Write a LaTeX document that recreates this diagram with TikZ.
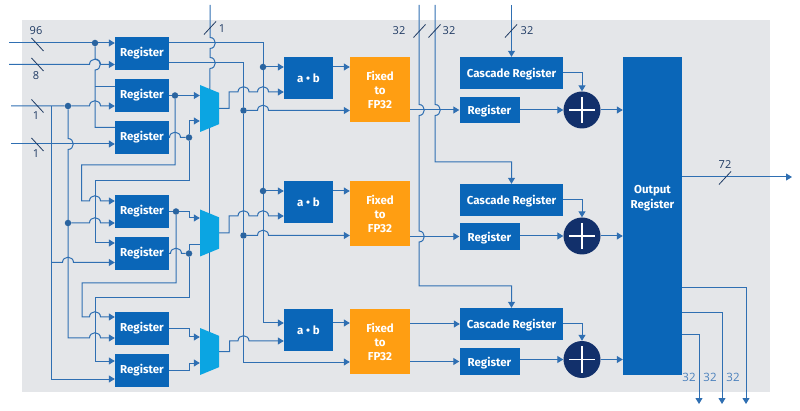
\documentclass[tikz,border=0pt]{standalone}
\usepackage{fontspec}
\setmainfont{Open Sans}
\newfontfamily\boxfont{Fira Sans}
\usepackage{xcolor}
\usetikzlibrary{shapes.geometric, arrows.meta, backgrounds}

\definecolor{panelgrey}{HTML}{E4E6E9}
\definecolor{regblue}{HTML}{0A66B8}
\definecolor{fixorange}{HTML}{FF9E12}
\definecolor{muxblue}{HTML}{0BA5E2}
\definecolor{addnavy}{HTML}{12306B}
\definecolor{wireblue}{HTML}{2F6FB2}
\definecolor{labelnavy}{HTML}{1F3A63}
\definecolor{labelblue}{HTML}{4A80BC}

\newcommand{\hopx}[2]{-- (#1-5.5,#2) .. controls (#1-5.5,#2-7) and (#1+5.5,#2-7) .. (#1+5.5,#2)}
\newcommand{\hopy}[2]{-- (#1,#2-5.5) .. controls (#1+7,#2-5.5) and (#1+7,#2+5.5) .. (#1,#2+5.5)}

\tikzset{
	box/.style={fill=regblue, text=white, inner sep=0pt, font=\boxfont\fontsize{11.5}{14}\selectfont\bfseries, align=center},
	regbox/.style={box, minimum width=54pt, minimum height=33pt},
	abbox/.style={box, minimum width=49pt, minimum height=42pt},
	fixbox/.style={box, fill=fixorange, minimum width=60pt, minimum height=65pt},
	casbox/.style={box, minimum width=103pt, minimum height=32pt, text height=10pt, text depth=0pt},
	smallreg/.style={box, minimum width=60pt, minimum height=26.5pt, text height=10pt, text depth=0pt},
	muxbox/.style={trapezium, fill=muxblue, rotate=-90, inner sep=0pt, trapezium stretches=true,
		minimum width=47pt, minimum height=19pt, trapezium angle=63.4},
	adder/.style={circle, fill=addnavy, minimum size=37pt, inner sep=0pt, path picture={
		\draw[white, line width=1.1pt] (path picture bounding box.center) +(-13,0) -- +(13,0);
		\draw[white, line width=1.1pt] (path picture bounding box.center) +(0,-13) -- +(0,13);}},
	jdot/.style={circle, fill=wireblue!90!black, minimum size=6.5pt, inner sep=0pt},
	wire/.style={draw=wireblue, line width=1pt},
	arr/.style={wire, -{Triangle[length=6pt, width=7pt]}},
	tickmark/.style={draw=labelnavy, line width=0.8pt},
	numlabel/.style={text=labelnavy, font=\fontsize{11}{13}\selectfont},
	outlabel/.style={text=labelblue, font=\fontsize{11.5}{13}\selectfont}
}

\begin{document}
\begin{tikzpicture}[x=1pt, y=-1pt]
	\useasboundingbox (0,0) rectangle (800,411);

	% Define the free wire ends
	\coordinate (inA) at (9,43);
	\coordinate (inB) at (9,64.5);
	\coordinate (inC) at (11,106);
	\coordinate (inD) at (11,144);
	\coordinate (selTop) at (210,5);
	\coordinate (busA) at (419,5);
	\coordinate (busB) at (435,5);
	\coordinate (busC) at (511.5,5);
	\coordinate (outA) at (792,177);
	\coordinate (outB) at (746,404);
	\coordinate (outC) at (722,404);
	\coordinate (outD) at (699,404);

	% Registers on the left
	\node[regbox] (regA) at (142,53.5) {Register};
	\node[regbox] (regB) at (142,95.5) {Register};
	\node[regbox] (regC) at (142,137.5) {Register};
	\node[regbox] (regD) at (142,211.5) {Register};
	\node[regbox] (regE) at (142,253.5) {Register};
	\node[regbox] (regF) at (142,328.5) {Register};
	\node[regbox] (regG) at (142,370) {Register};

	% Multiplexers
	\node[muxbox] (muxA) at (209.5,108.5) {\phantom{.}};
	\node[muxbox] (muxB) at (209.5,233) {\phantom{.}};
	\node[muxbox] (muxC) at (209.5,351.5) {\phantom{.}};

	% Multipliers and converters
	\node[abbox] (abA) at (308.5,78) {a • b};
	\node[abbox] (abB) at (308.5,202) {a • b};
	\node[abbox] (abC) at (308.5,330) {a • b};
	\node[fixbox] (fixA) at (380,89.5) {Fixed\\to\\FP32};
	\node[fixbox] (fixB) at (380,213.5) {Fixed\\to\\FP32};
	\node[fixbox] (fixC) at (380,341.5) {Fixed\\to\\FP32};

	% Cascade registers, registers and adders
	\node[casbox] (casA) at (511.5,73) {Cascade Register};
	\node[casbox] (casB) at (511.5,200) {Cascade Register};
	\node[casbox] (casC) at (511.5,324) {Cascade Register};
	\node[smallreg] (regH) at (489.5,110) {Register};
	\node[smallreg] (regI) at (489.5,236.5) {Register};
	\node[smallreg] (regJ) at (489.5,361.5) {Register};
	\node[adder] (addA) at (582,110) {};
	\node[adder] (addB) at (582,236) {};
	\node[adder] (addC) at (582,359.5) {};

	% Output register
	\node[box, minimum width=59pt, minimum height=318pt] (outreg) at (652.5,216) {};
	\node[box, fill=none] (outtext) at (652.5,198) {Output\\[1pt]Register};

	% Junction dots
	\node[jdot] (jA) at (95,43) {};
	\node[jdot] (jC) at (68,106) {};
	\node[jdot] (jD) at (68,223) {};
	\node[jdot] (jE) at (175,95.5) {};
	\node[jdot] (jF) at (189,137.5) {};
	\node[jdot] (jG) at (176,211.5) {};
	\node[jdot] (jH) at (189,253.5) {};
	\node[jdot] (jJ) at (263,67) {};
	\node[jdot] (jK) at (263,191) {};
	\node[jdot] (jL) at (243.5,110.5) {};
	\node[jdot] (jM) at (243.5,235.5) {};

	% Width labels
	\node[numlabel] (lblA) at (36,31) {96};
	\node[numlabel] (lblB) at (36,76) {8};
	\node[numlabel] (lblC) at (36,116) {1};
	\node[numlabel] (lblD) at (36,154) {1};
	\node[numlabel] (lblE) at (222,29) {1};
	\node[numlabel] (lblF) at (399,31) {32};
	\node[numlabel] (lblG) at (449,31) {32};
	\node[numlabel] (lblH) at (527,31) {32};
	\node[numlabel] (lblI) at (725,165) {72};
	\node[outlabel] (lblJ) at (689,377) {32};
	\node[outlabel] (lblK) at (710,377) {32};
	\node[outlabel] (lblL) at (733,377) {32};

	\begin{scope}[on background layer]
		% Grey panel
		\fill[panelgrey] (22,20) rectangle (770,392);

		% Inputs of the registers
		\draw[arr] (inA) -- (regA.west |- inA);
		\draw[arr] (inB) \hopx{95}{64.5} -- (regA.west |- inB);
		\draw[arr] (inC) -- (jC) \hopx{95}{106} -- (regB.west |- inC);
		\draw[arr] (inD) -- (regC.west |- inD);
		\draw[wire] (jA) \hopy{95}{64.5} -- (95,127.5) -- (regC.west |- 0,127.5);
		\draw[wire] (95,86.5) -- (regB.west |- 0,86.5);
		\draw[arr] (jC) \hopy{68}{144} -- (68,338) \hopx{95}{338} -- (regF.west |- 0,338);
		\draw[arr] (jD) \hopx{95}{223} -- (regD.west |- jD);
		\draw[arr] (51,106) -- (51,379) -- (regG.west |- 0,379);
		\draw[arr] (51,262.5) \hopx{68}{262.5} -- (regE.west |- 0,262.5);

		% Feedback from the mux inputs to the next registers
		\draw[arr] (jE) -- (175,165) -- (81.5,165) -- (81.5,201) \hopx{95}{201} -- (regD.west |- 0,201);
		\draw[arr] (jF) -- (189,181) -- (95,181) -- (95,243) -- (regE.west |- 0,243);
		\draw[arr] (jG) -- (176,283) -- (82,283) -- (82,317) \hopx{95}{317} -- (regF.west |- 0,317);
		\draw[arr] (jH) -- (189,298) -- (95,298) -- (95,361) -- (regG.west |- 0,361);

		% Register outputs to the multiplexers
		\draw[arr] (regB.east) -- (jE) -- (muxA.south |- jE);
		\draw[wire] (regC.east) \hopx{175}{137.5} -- (jF);
		\draw[arr] (jF) -- (189,121) -- (muxA.south |- 0,121);
		\draw[arr] (regD.east) -- (jG) -- (189,211.5) -- (189,218) -- (muxB.south |- 0,218);
		\draw[wire] (regE.east) \hopx{176}{253.5} -- (jH);
		\draw[wire] (jH) -- (189,245) -- (muxB.south |- 0,245);
		\draw[arr] (regF.east) -- (189,328.5) -- (189,337) -- (muxC.south |- 0,337);
		\draw[arr] (regG.east) -- (189,370) -- (189,363) -- (muxC.south |- 0,363);

		% Select line of the multiplexers
		\draw[wire] (selTop) \hopy{210}{43} \hopy{210}{63} -- (muxA.center);
		\draw[wire] (muxA.center) -- (muxB.center) -- (muxC.center);

		% Top register to multipliers and converters
		\draw[wire] (regA.east |- 0,43) -- (263,43) -- (jJ);
		\draw[arr] (jJ) -- (abA.west |- jJ);
		\draw[wire] (jJ) -- (jK);
		\draw[arr] (jK) -- (abB.west |- jK);
		\draw[arr] (jK) -- (263,323) -- (abC.west |- 0,323);
		\draw[wire] (regA.east |- 0,63) -- (243.5,63) -- (jL) -- (jM);
		\draw[arr] (jL) \hopx{263}{110.5} -- (fixA.west |- jL);
		\draw[arr] (jM) \hopx{263}{235.5} -- (fixB.west |- jM);
		\draw[arr] (jM) -- (243.5,362) -- (fixC.west |- 0,362);

		% Mux outputs to the multipliers
		\draw[arr] (muxA.north) -- (229,108.5) -- (229,92) \hopx{243.5}{92} \hopx{263}{92} -- (abA.west |- 0,92);
		\draw[arr] (muxB.north) -- (229,233) -- (229,216) \hopx{243.5}{216} \hopx{263}{216} -- (abB.west |- 0,216);
		\draw[arr] (muxC.north) -- (229.5,351.5) -- (229.5,341) \hopx{243.5}{341} -- (abC.west |- 0,341);

		% Multipliers to converters
		\draw[arr] (abA.east |- 0,67) -- (fixA.west |- 0,67);
		\draw[arr] (abB.east |- 0,191) -- (fixB.west |- 0,191);
		\draw[arr] (abC.east |- 0,323) -- (fixC.west |- 0,323);

		% Converters to the registers
		\draw[arr] (fixA.east |- regH) -- (regH.west);
		\draw[arr] (fixB.east |- regI) -- (regI.west);
		\draw[arr] (fixC.east |- casC) -- (casC.west);
		\draw[arr] (fixC.east |- regJ) -- (regJ.west);

		% Cascade buses from the top
		\draw[arr] (busA) \hopy{419}{110} \hopy{419}{236.5} -- (419,286) -| (casC.north);
		\draw[arr] (busB) \hopy{435}{110} -- (435,162) -| (casB.north);
		\draw[arr] (busC) -- (casA.north);

		% Adders and output register
		\foreach \c/\r/\a in {casA/regH/addA, casB/regI/addB, casC/regJ/addC} {
			\draw[arr] (\c.east) -| (\a.north);
			\draw[arr] (\r.east |- \a) -- (\a.west);
			\draw[arr] (\a.east) -- (outreg.west |- \a);
		}

		% Outputs
		\draw[arr] (outreg.east |- outA) -- (outA);
		\draw[arr] (outreg.east |- 0,288) -| (outB);
		\draw[arr] (outreg.east |- 0,313) -| (outC);
		\draw[arr] (outreg.east |- 0,335) -| (outD);

		% Width ticks
		\foreach \x/\y in {37.5/44.5, 37.5/64.5, 37.5/106, 37.5/144.5}
			\draw[tickmark] (\x-6,\y-6.5) -- (\x+6,\y+6.5);
		\foreach \x/\y in {210/28, 419.5/31, 434.5/31, 511/31, 725/178}
			\draw[tickmark] (\x-6,\y+6.5) -- (\x+6,\y-6.5);
	\end{scope}
\end{tikzpicture}
\end{document}
